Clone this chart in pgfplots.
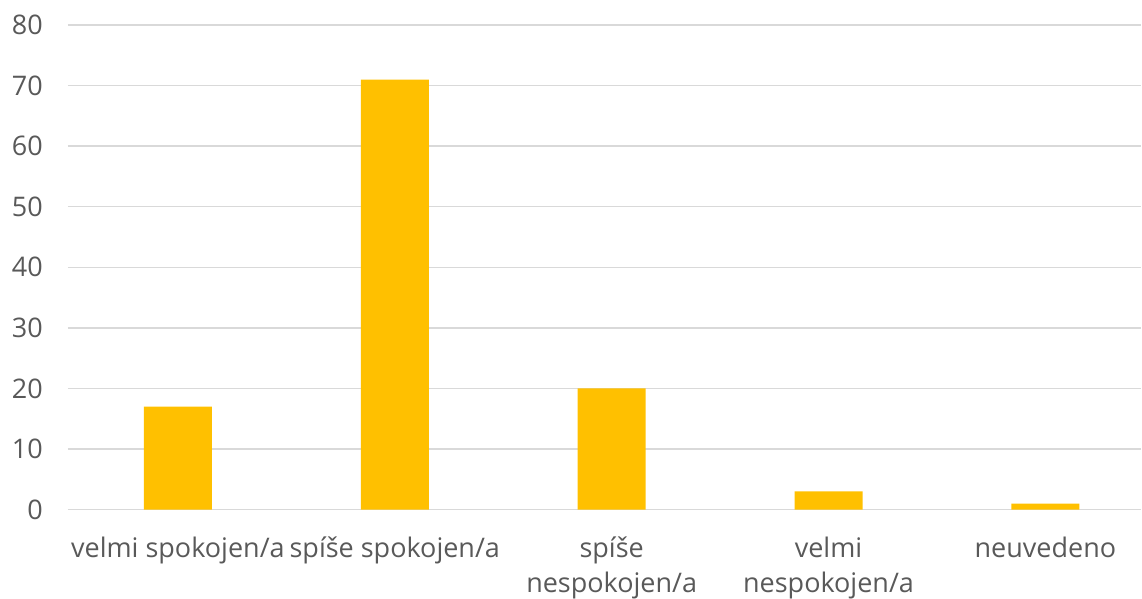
\documentclass[border=0pt]{standalone}
\usepackage{pgfplots}
\pgfplotsset{compat=1.18}
\usepackage{fontspec}
\setmainfont{Open Sans}
\definecolor{baryellow}{HTML}{FFC000}
\definecolor{txtgray}{HTML}{595959}
\definecolor{gridgray}{HTML}{D9D9D9}
\begin{document}
\begin{tikzpicture}
\begin{axis}[
    scale only axis,
    width=1074pt, height=485pt,
    xmin=-0.507, xmax=4.442,
    ymin=0, ymax=80,
    ytick={0,10,...,80},
    xtick=data,
    xticklabels={velmi spokojen/a, spíše spokojen/a, spíše\\nespokojen/a, velmi\\nespokojen/a, neuvedeno},
    axis line style={draw=none},
    major tick length=0pt,
    ymajorgrids,
    major grid style={gridgray, line width=1.5pt},
    ybar, bar width=68pt,
    /pgf/number format/assume math mode=true,
    font=\fontsize{27}{35}\selectfont\color{txtgray},
    yticklabel style={anchor=east, inner sep=0pt, xshift=-25pt},
    xticklabel style={anchor=north, align=center, inner sep=0pt, yshift=-27pt},
]
\addplot[fill=baryellow, draw=none] coordinates {(0,17) (1,71) (2,20) (3,3) (4,1)};
\end{axis}
\path (current axis.south west) ++(-68pt,-89pt) rectangle ++(1142pt,599pt);
\end{tikzpicture}
\end{document}
